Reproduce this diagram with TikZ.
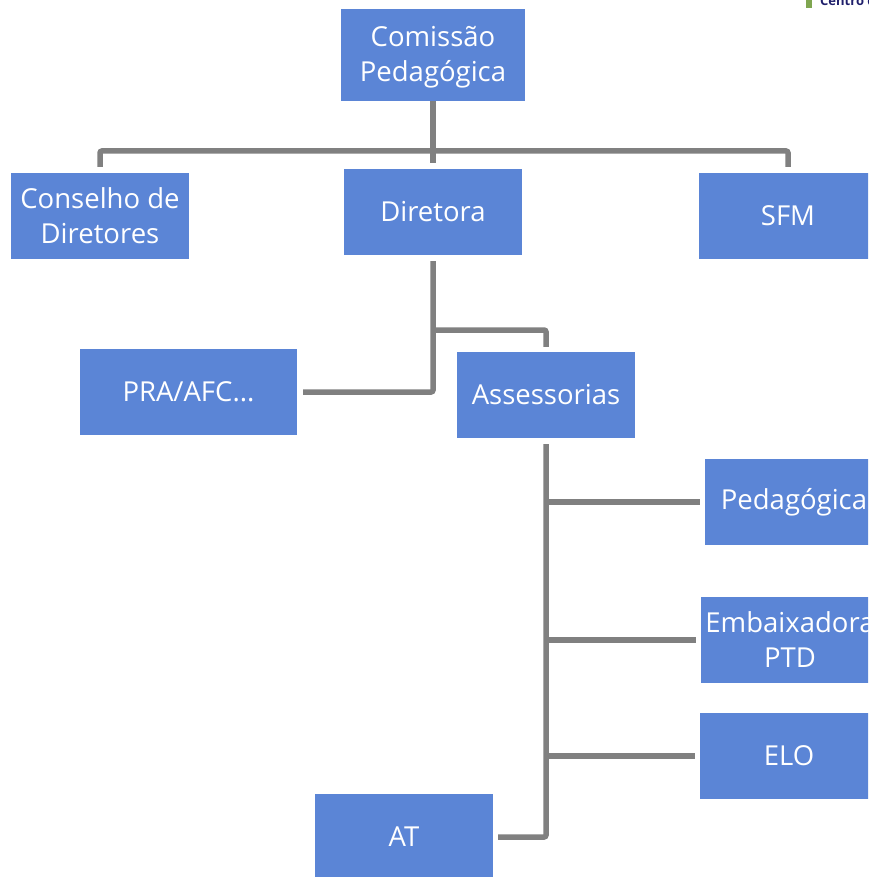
\documentclass[tikz,border=0pt]{standalone}
\usepackage{fontspec}
\setmainfont{Open Sans}
\usetikzlibrary{positioning}
\definecolor{boxblue}{HTML}{5B85D6}
\definecolor{linegray}{HTML}{808080}
\definecolor{logoblue}{HTML}{1F1F6B}
\definecolor{logogreen}{HTML}{7FA650}
\begin{document}
\begin{tikzpicture}[x=1pt,y=-1pt,
	unit/.style = {fill=boxblue, text=white, align=center, minimum width=178pt, minimum height=86pt, inner sep=0, font=\fontsize{27.5}{35}\selectfont},
	wire/.style = {draw=linegray, line width=5.5pt, rounded corners=2pt}]
\clip (0,0) rectangle (868,877);
\node[unit,minimum width=184pt,minimum height=92pt] (comissao) at (433,55) {\rule{0pt}{25pt}Comissão\\Pedagógica};
\node[unit] (conselho) at (100,216) {Conselho de\\Diretores};
\node[unit] (diretora) at (433,212) {Diretora};
\node[unit] (sfm) at (788,216) {SFM};
\node[unit,minimum width=217pt] (pra) at (188.5,392) {PRA/AFC...};
\node[unit] (assessorias) at (546,395) {Assessorias};
\node[unit] (pedagogica) at (794,502) {Pedagógica};
\node[unit] (embaixadora) at (790,640) {Embaixadora\\PTD};
\node[unit] (elo) at (789,756) {ELO};
\node[unit] (at) at (404,837) {AT};
% logo at the corner
\node[inner sep=0, text=logoblue, anchor=west, font=\bfseries\fontsize{13}{13}\selectfont] (logo) at (820,0.5) {Centro de};
\node[inner sep=0, fill=logogreen, minimum width=6pt, minimum height=16pt, left=8pt of logo.west] (logomark) {};
% top level
\coordinate (topbus) at (433,151);
\draw[wire] (comissao.south) -- (topbus);
\draw[wire] (topbus) -- ([yshift=6pt]diretora.north);
\draw[wire] (topbus) -| ([yshift=6pt]conselho.north);
\draw[wire] (topbus) -| ([yshift=6pt]sfm.north);
% below the director
\coordinate (dirbranch) at (433,330);
\draw[wire] ([yshift=-6pt]diretora.south) |- ([xshift=6pt]pra.east);
\draw[wire] (dirbranch) -| ([yshift=5pt]assessorias.north);
% advisory spine
\draw[wire] ([yshift=-6pt]assessorias.south) |- ([xshift=5pt]at.east);
\coordinate (pedagogicabranch) at (546,502);
\coordinate (embaixadorabranch) at (546,640);
\coordinate (elobranch) at (546,756);
\draw[wire] (pedagogicabranch) -- ([xshift=-5pt]pedagogica.west);
\draw[wire] (embaixadorabranch) -- ([xshift=-5pt]embaixadora.west);
\draw[wire] (elobranch) -- ([xshift=-5pt]elo.west);
\end{tikzpicture}
\end{document}
